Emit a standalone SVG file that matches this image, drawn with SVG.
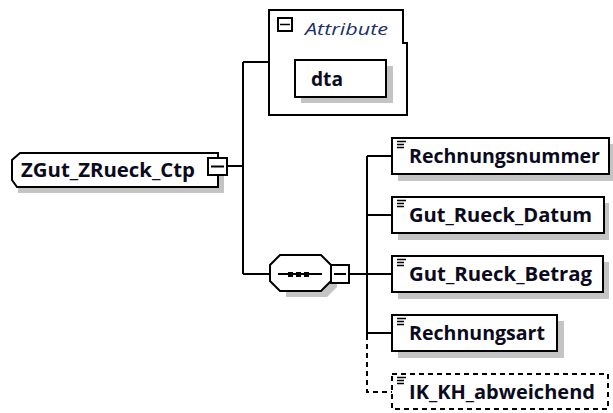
<svg xmlns="http://www.w3.org/2000/svg" width="613" height="413" viewBox="0 0 613 413">
<defs>
<style>
.ln{stroke:#000;stroke-width:2;fill:none}
.dash{stroke:#000;stroke-width:2;fill:none;stroke-dasharray:5,4}
.box{fill:#fff;stroke:#000;stroke-width:2}
.dbox{fill:#fff;stroke:#000;stroke-width:2;stroke-dasharray:5,4}
.sh{fill:#c4c4c4}
.lbl{font-family:"Open Sans","Liberation Sans",sans-serif;font-weight:bold;font-size:20px;fill:#0a0a20}
.att{font-family:"Open Sans","Liberation Sans",sans-serif;font-style:italic;font-size:17px;fill:#1b2f6a}
.ic{stroke:#000;stroke-width:1.3}
</style>
</defs>
<rect width="613" height="413" fill="#fff"/>
<g id="connectors">
<path class="ln" d="M228 166H243M243 62V274M243 62H269M243 274H270M349 274H367M367 156V335M367 156H392M367 215H392M367 274H392M367 333H392"/>
<path class="dash" d="M367 335V392H392"/>
</g>
<g id="root">
<path class="sh" d="M18 187H218V158H224V193H18Z"/>
<path class="box" d="M20 153H218V187H17L12 180V160Z"/>
<text class="lbl" x="21" y="177" textLength="174" lengthAdjust="spacingAndGlyphs">ZGut_ZRueck_Ctp</text>
<rect class="box" x="208" y="158" width="19" height="17"/>
<path d="M211 166.5H224" stroke="#000" stroke-width="2"/>
</g>
<g id="attributes">
<path class="box" d="M269 10H403V43H407V115H269Z"/>
<rect class="box" x="278" y="18" width="14" height="13" stroke-width="1.5"/>
<path d="M280 24.5H290" stroke="#000" stroke-width="1.5"/>
<text class="att" x="305" y="35" textLength="83" lengthAdjust="spacingAndGlyphs">Attribute</text>
</g>
<g id="dta">
<rect class="sh" x="301" y="66" width="92" height="37"/>
<rect class="box" x="295" y="60" width="91" height="37"/>
<text class="lbl" x="311" y="86" textLength="32" lengthAdjust="spacingAndGlyphs">dta</text>
</g>
<g id="sequence">
<path class="sh" d="M286 261H327L337 271V287L327 297H286Z"/>
<path class="box" d="M280 255H321L331 265V281L321 291H280L270 281V265Z"/>
<path class="ln" d="M278 274H322"/>
<rect x="288" y="272" width="5" height="5" fill="#000"/>
<rect x="296" y="272" width="5" height="5" fill="#000"/>
<rect x="304" y="272" width="5" height="5" fill="#000"/>
<rect class="box" x="331" y="265" width="18" height="18"/>
<path d="M334 274H346" stroke="#000" stroke-width="2"/>
</g>
<g id="Rechnungsnummer">
<rect class="sh" x="398" y="144" width="215" height="37"/>
<rect class="box" x="392" y="138" width="217" height="36"/>
<path class="ic" d="M397 141.5H406M397 144.5H404M397 147.5H404"/>
<text class="lbl" x="409" y="163" textLength="191" lengthAdjust="spacingAndGlyphs">Rechnungsnummer</text>
</g>
<g id="Gut_Rueck_Datum">
<rect class="sh" x="398" y="203" width="211" height="37"/>
<rect class="box" x="392" y="197" width="212" height="36"/>
<path class="ic" d="M397 200.5H406M397 203.5H404M397 206.5H404"/>
<text class="lbl" x="409" y="222" textLength="183" lengthAdjust="spacingAndGlyphs">Gut_Rueck_Datum</text>
</g>
<g id="Gut_Rueck_Betrag">
<rect class="sh" x="398" y="262" width="211" height="37"/>
<rect class="box" x="392" y="256" width="211" height="36"/>
<path class="ic" d="M397 259.5H406M397 262.5H404M397 265.5H404"/>
<text class="lbl" x="409" y="281" textLength="183" lengthAdjust="spacingAndGlyphs">Gut_Rueck_Betrag</text>
</g>
<g id="Rechnungsart">
<rect class="sh" x="398" y="321" width="166" height="37"/>
<rect class="box" x="392" y="315" width="165" height="36"/>
<path class="ic" d="M397 318.5H406M397 321.5H404M397 324.5H404"/>
<text class="lbl" x="409" y="340" textLength="136" lengthAdjust="spacingAndGlyphs">Rechnungsart</text>
</g>
<g id="IK_KH_abweichend">
<rect class="dbox" x="392" y="374" width="216" height="35"/>
<path class="ic" d="M397 377.5H406M397 380.5H404M397 383.5H404"/>
<text class="lbl" x="409" y="399" textLength="186" lengthAdjust="spacingAndGlyphs">IK_KH_abweichend</text>
</g>
</svg>
